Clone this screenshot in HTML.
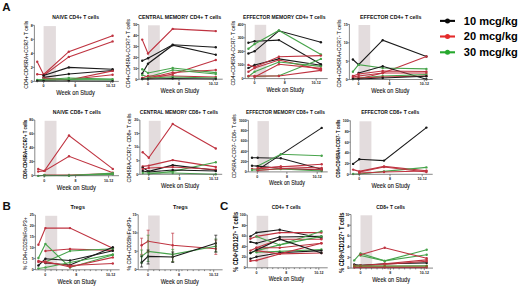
<!DOCTYPE html><html><head><meta charset="utf-8"><style>html,body{margin:0;padding:0;background:#fff;width:520px;height:287px;overflow:hidden}svg{display:block;font-family:"Liberation Sans",sans-serif}</style></head><body>
<svg width="520" height="287" viewBox="0 0 520 287">
<rect width="520" height="287" fill="#fff"/>
<rect x="43.6" y="26.1" width="12.3" height="55.3" fill="#e3dcdd"/>
<text x="75.6" y="18.7" font-size="5.3" font-weight="bold" text-anchor="middle" fill="#111" textLength="46.8" lengthAdjust="spacingAndGlyphs" >NAIVE CD4+ T cells</text>
<text transform="translate(26.2,54.7) rotate(-90)" x="0" y="0" font-size="5.6" font-weight="normal" text-anchor="middle" dominant-baseline="central" fill="#111" stroke="#111" stroke-width="0.05" textLength="68" lengthAdjust="spacingAndGlyphs">CD4+CD45RA+CCR7+ T cells</text>
<polyline points="37.2,61.8 43.6,74.5 68.8,51.7 112.6,35.7" fill="none" stroke="#bf3340" stroke-width="1.1"/>
<circle cx="37.2" cy="61.8" r="1.2" fill="#bf3340"/>
<circle cx="43.6" cy="74.5" r="1.2" fill="#bf3340"/>
<circle cx="68.8" cy="51.7" r="1.2" fill="#bf3340"/>
<circle cx="112.6" cy="35.7" r="1.2" fill="#bf3340"/>
<polyline points="43.6,75.5 68.8,56.9 112.6,41.4" fill="none" stroke="#bf3340" stroke-width="1.1"/>
<circle cx="43.6" cy="75.5" r="1.2" fill="#bf3340"/>
<circle cx="68.8" cy="56.9" r="1.2" fill="#bf3340"/>
<circle cx="112.6" cy="41.4" r="1.2" fill="#bf3340"/>
<polyline points="37.2,74.2 43.6,74.8" fill="none" stroke="#bf3340" stroke-width="1.1"/>
<circle cx="37.2" cy="74.2" r="1.2" fill="#bf3340"/>
<circle cx="43.6" cy="74.8" r="1.2" fill="#bf3340"/>
<polyline points="43.6,75.5 68.8,67.4 112.6,69.3" fill="none" stroke="#1a1a1a" stroke-width="1.1"/>
<circle cx="43.6" cy="75.5" r="1.2" fill="#1a1a1a"/>
<circle cx="68.8" cy="67.4" r="1.2" fill="#1a1a1a"/>
<circle cx="112.6" cy="69.3" r="1.2" fill="#1a1a1a"/>
<polyline points="43.6,77.4 68.8,74 112.6,70.5" fill="none" stroke="#1a1a1a" stroke-width="1.1"/>
<circle cx="43.6" cy="77.4" r="1.2" fill="#1a1a1a"/>
<circle cx="68.8" cy="74" r="1.2" fill="#1a1a1a"/>
<circle cx="112.6" cy="70.5" r="1.2" fill="#1a1a1a"/>
<polyline points="43.6,78 68.8,80 112.6,70.9" fill="none" stroke="#bf3340" stroke-width="1.1"/>
<circle cx="43.6" cy="78" r="1.2" fill="#bf3340"/>
<circle cx="68.8" cy="80" r="1.2" fill="#bf3340"/>
<circle cx="112.6" cy="70.9" r="1.2" fill="#bf3340"/>
<polyline points="43.6,79 68.8,79.5 112.6,74.7" fill="none" stroke="#bf3340" stroke-width="1.1"/>
<circle cx="43.6" cy="79" r="1.2" fill="#bf3340"/>
<circle cx="68.8" cy="79.5" r="1.2" fill="#bf3340"/>
<circle cx="112.6" cy="74.7" r="1.2" fill="#bf3340"/>
<polyline points="37.2,79.9 43.6,79.5 68.8,78 112.6,79.1" fill="none" stroke="#48a44c" stroke-width="1.1"/>
<circle cx="37.2" cy="79.9" r="1.2" fill="#48a44c"/>
<circle cx="43.6" cy="79.5" r="1.2" fill="#48a44c"/>
<circle cx="68.8" cy="78" r="1.2" fill="#48a44c"/>
<circle cx="112.6" cy="79.1" r="1.2" fill="#48a44c"/>
<polyline points="37.2,80.3 43.6,80.3 68.8,79.5 112.6,79.9" fill="none" stroke="#48a44c" stroke-width="1.1"/>
<circle cx="37.2" cy="80.3" r="1.2" fill="#48a44c"/>
<circle cx="43.6" cy="80.3" r="1.2" fill="#48a44c"/>
<circle cx="68.8" cy="79.5" r="1.2" fill="#48a44c"/>
<circle cx="112.6" cy="79.9" r="1.2" fill="#48a44c"/>
<polyline points="37.2,81 43.6,81 68.8,81 112.6,81.2" fill="none" stroke="#1a1a1a" stroke-width="1.1"/>
<circle cx="37.2" cy="81" r="1.2" fill="#1a1a1a"/>
<circle cx="43.6" cy="81" r="1.2" fill="#1a1a1a"/>
<circle cx="68.8" cy="81" r="1.2" fill="#1a1a1a"/>
<circle cx="112.6" cy="81.2" r="1.2" fill="#1a1a1a"/>
<path d="M34.4,25.3V81.4H118.8" stroke="#555555" stroke-width="0.7" fill="none"/>
<text x="32.7" y="26.6" font-size="3.5" font-weight="bold" text-anchor="end" fill="#222" >8</text>
<text x="32.7" y="40.62" font-size="3.5" font-weight="bold" text-anchor="end" fill="#222" >6</text>
<text x="32.7" y="54.65" font-size="3.5" font-weight="bold" text-anchor="end" fill="#222" >4</text>
<text x="32.7" y="68.67" font-size="3.5" font-weight="bold" text-anchor="end" fill="#222" >2</text>
<text x="32.7" y="82.7" font-size="3.5" font-weight="bold" text-anchor="end" fill="#222" >0</text>
<text x="43.6" y="87.25" font-size="3.6" font-weight="bold" text-anchor="middle" fill="#222" >0</text>
<text x="75.2" y="87.25" font-size="3.6" font-weight="bold" text-anchor="middle" fill="#222" >8</text>
<text x="110.7" y="87.25" font-size="3.6" font-weight="bold" text-anchor="middle" fill="#222" >10-12</text>
<path d="M32.4,25.3H34.4M32.4,39.33H34.4M32.4,53.35H34.4M32.4,67.38H34.4M32.4,81.4H34.4M43.6,81.4V83.4M75.2,81.4V83.4M110.7,81.4V83.4" stroke="#555555" stroke-width="0.7" fill="none"/>
<text x="75.5" y="95.1" font-size="6.4" font-weight="normal" text-anchor="middle" fill="#111" textLength="38.5" lengthAdjust="spacingAndGlyphs" stroke="#111" stroke-width="0.1">Week on Study</text>
<rect x="148" y="25.3" width="11.8" height="53.9" fill="#e3dcdd"/>
<text x="179.7" y="18.5" font-size="5.3" font-weight="bold" text-anchor="middle" fill="#111" textLength="83" lengthAdjust="spacingAndGlyphs" >CENTRAL MEMORY CD4+ T cells</text>
<text transform="translate(128.3,53.55) rotate(-90)" x="0" y="0" font-size="5.6" font-weight="normal" text-anchor="middle" dominant-baseline="central" fill="#111" stroke="#111" stroke-width="0.05" textLength="69" lengthAdjust="spacingAndGlyphs">CD4+CD45RA-CCR7+ T cells</text>
<polyline points="142.2,39.6 148,53.5 172.7,28.9 215.8,31.1" fill="none" stroke="#bf3340" stroke-width="1.1"/>
<circle cx="142.2" cy="39.6" r="1.2" fill="#bf3340"/>
<circle cx="148" cy="53.5" r="1.2" fill="#bf3340"/>
<circle cx="172.7" cy="28.9" r="1.2" fill="#bf3340"/>
<circle cx="215.8" cy="31.1" r="1.2" fill="#bf3340"/>
<polyline points="142.2,60.7 148,58.2 172.7,44.7 215.8,47.2" fill="none" stroke="#1a1a1a" stroke-width="1.1"/>
<circle cx="142.2" cy="60.7" r="1.2" fill="#1a1a1a"/>
<circle cx="148" cy="58.2" r="1.2" fill="#1a1a1a"/>
<circle cx="172.7" cy="44.7" r="1.2" fill="#1a1a1a"/>
<circle cx="215.8" cy="47.2" r="1.2" fill="#1a1a1a"/>
<polyline points="142.2,73.6 148,63.7 172.7,45.2 215.8,54.7" fill="none" stroke="#1a1a1a" stroke-width="1.1"/>
<circle cx="142.2" cy="73.6" r="1.2" fill="#1a1a1a"/>
<circle cx="148" cy="63.7" r="1.2" fill="#1a1a1a"/>
<circle cx="172.7" cy="45.2" r="1.2" fill="#1a1a1a"/>
<circle cx="215.8" cy="54.7" r="1.2" fill="#1a1a1a"/>
<polyline points="148,79 172.7,74 215.8,60" fill="none" stroke="#bf3340" stroke-width="1.1"/>
<circle cx="148" cy="79" r="1.2" fill="#bf3340"/>
<circle cx="172.7" cy="74" r="1.2" fill="#bf3340"/>
<circle cx="215.8" cy="60" r="1.2" fill="#bf3340"/>
<polyline points="142.2,69.2 148,73 172.7,68 215.8,72.6" fill="none" stroke="#48a44c" stroke-width="1.1"/>
<circle cx="142.2" cy="69.2" r="1.2" fill="#48a44c"/>
<circle cx="148" cy="73" r="1.2" fill="#48a44c"/>
<circle cx="172.7" cy="68" r="1.2" fill="#48a44c"/>
<circle cx="215.8" cy="72.6" r="1.2" fill="#48a44c"/>
<polyline points="148,78 172.7,72.5 215.8,70" fill="none" stroke="#bf3340" stroke-width="1.1"/>
<circle cx="148" cy="78" r="1.2" fill="#bf3340"/>
<circle cx="172.7" cy="72.5" r="1.2" fill="#bf3340"/>
<circle cx="215.8" cy="70" r="1.2" fill="#bf3340"/>
<polyline points="142.2,75 148,77 172.7,70 215.8,74" fill="none" stroke="#48a44c" stroke-width="1.1"/>
<circle cx="142.2" cy="75" r="1.2" fill="#48a44c"/>
<circle cx="148" cy="77" r="1.2" fill="#48a44c"/>
<circle cx="172.7" cy="70" r="1.2" fill="#48a44c"/>
<circle cx="215.8" cy="74" r="1.2" fill="#48a44c"/>
<polyline points="142.2,78 148,76 172.7,76 215.8,77" fill="none" stroke="#bf3340" stroke-width="1.1"/>
<circle cx="142.2" cy="78" r="1.2" fill="#bf3340"/>
<circle cx="148" cy="76" r="1.2" fill="#bf3340"/>
<circle cx="172.7" cy="76" r="1.2" fill="#bf3340"/>
<circle cx="215.8" cy="77" r="1.2" fill="#bf3340"/>
<polyline points="142.2,79 148,78 172.7,77 215.8,78" fill="none" stroke="#48a44c" stroke-width="1.1"/>
<circle cx="142.2" cy="79" r="1.2" fill="#48a44c"/>
<circle cx="148" cy="78" r="1.2" fill="#48a44c"/>
<circle cx="172.7" cy="77" r="1.2" fill="#48a44c"/>
<circle cx="215.8" cy="78" r="1.2" fill="#48a44c"/>
<polyline points="142.2,79 148,79 172.7,78.5 215.8,79" fill="none" stroke="#1a1a1a" stroke-width="1.1"/>
<circle cx="142.2" cy="79" r="1.2" fill="#1a1a1a"/>
<circle cx="148" cy="79" r="1.2" fill="#1a1a1a"/>
<circle cx="172.7" cy="78.5" r="1.2" fill="#1a1a1a"/>
<circle cx="215.8" cy="79" r="1.2" fill="#1a1a1a"/>
<path d="M138.9,24.5V79.2H222.7" stroke="#555555" stroke-width="0.7" fill="none"/>
<text x="137.2" y="25.8" font-size="3.5" font-weight="bold" text-anchor="end" fill="#222" >50</text>
<text x="137.2" y="36.82" font-size="3.5" font-weight="bold" text-anchor="end" fill="#222" >40</text>
<text x="137.2" y="47.84" font-size="3.5" font-weight="bold" text-anchor="end" fill="#222" >30</text>
<text x="137.2" y="58.86" font-size="3.5" font-weight="bold" text-anchor="end" fill="#222" >20</text>
<text x="137.2" y="69.88" font-size="3.5" font-weight="bold" text-anchor="end" fill="#222" >10</text>
<text x="137.2" y="80.9" font-size="3.5" font-weight="bold" text-anchor="end" fill="#222" >0</text>
<text x="148" y="85.05" font-size="3.6" font-weight="bold" text-anchor="middle" fill="#222" >0</text>
<text x="179" y="85.05" font-size="3.6" font-weight="bold" text-anchor="middle" fill="#222" >8</text>
<text x="213.3" y="85.05" font-size="3.6" font-weight="bold" text-anchor="middle" fill="#222" >10-12</text>
<path d="M136.9,24.5H138.9M136.9,35.52H138.9M136.9,46.54H138.9M136.9,57.56H138.9M136.9,68.58H138.9M136.9,79.6H138.9M148,79.2V81.2M179,79.2V81.2M213.3,79.2V81.2" stroke="#555555" stroke-width="0.7" fill="none"/>
<text x="179.8" y="93.4" font-size="6.4" font-weight="normal" text-anchor="middle" fill="#111" textLength="38.4" lengthAdjust="spacingAndGlyphs" stroke="#111" stroke-width="0.1">Week on Study</text>
<rect x="254.7" y="24.8" width="11.5" height="53.8" fill="#e3dcdd"/>
<text x="284.3" y="18.5" font-size="5.3" font-weight="bold" text-anchor="middle" fill="#111" textLength="82.5" lengthAdjust="spacingAndGlyphs" >EFFECTOR MEMORY CD4+ T cells</text>
<text transform="translate(233.3,53.15) rotate(-90)" x="0" y="0" font-size="5.6" font-weight="normal" text-anchor="middle" dominant-baseline="central" fill="#111" stroke="#111" stroke-width="0.05" textLength="64.7" lengthAdjust="spacingAndGlyphs">CD4+CD45RA-CCR7- T cells</text>
<polyline points="248.4,42.7 254.6,41.2 278.9,40.1 320.9,64.2" fill="none" stroke="#1a1a1a" stroke-width="1.1"/>
<circle cx="248.4" cy="42.7" r="1.2" fill="#1a1a1a"/>
<circle cx="254.6" cy="41.2" r="1.2" fill="#1a1a1a"/>
<circle cx="278.9" cy="40.1" r="1.2" fill="#1a1a1a"/>
<circle cx="320.9" cy="64.2" r="1.2" fill="#1a1a1a"/>
<polyline points="248.4,53.5 254.6,51.3 278.9,30.8 320.9,42.2" fill="none" stroke="#1a1a1a" stroke-width="1.1"/>
<circle cx="248.4" cy="53.5" r="1.2" fill="#1a1a1a"/>
<circle cx="254.6" cy="51.3" r="1.2" fill="#1a1a1a"/>
<circle cx="278.9" cy="30.8" r="1.2" fill="#1a1a1a"/>
<circle cx="320.9" cy="42.2" r="1.2" fill="#1a1a1a"/>
<polyline points="248.4,48.7 254.6,44 278.9,30.4 320.9,54.5" fill="none" stroke="#48a44c" stroke-width="1.1"/>
<circle cx="248.4" cy="48.7" r="1.2" fill="#48a44c"/>
<circle cx="254.6" cy="44" r="1.2" fill="#48a44c"/>
<circle cx="278.9" cy="30.4" r="1.2" fill="#48a44c"/>
<circle cx="320.9" cy="54.5" r="1.2" fill="#48a44c"/>
<polyline points="248.4,67.9 254.6,64.9 278.9,58.9 320.9,65.3" fill="none" stroke="#1a1a1a" stroke-width="1.1"/>
<circle cx="248.4" cy="67.9" r="1.2" fill="#1a1a1a"/>
<circle cx="254.6" cy="64.9" r="1.2" fill="#1a1a1a"/>
<circle cx="278.9" cy="58.9" r="1.2" fill="#1a1a1a"/>
<circle cx="320.9" cy="65.3" r="1.2" fill="#1a1a1a"/>
<polyline points="248.4,64.9 254.6,67 278.9,56.7 320.9,55.6" fill="none" stroke="#bf3340" stroke-width="1.1"/>
<circle cx="248.4" cy="64.9" r="1.2" fill="#bf3340"/>
<circle cx="254.6" cy="67" r="1.2" fill="#bf3340"/>
<circle cx="278.9" cy="56.7" r="1.2" fill="#bf3340"/>
<circle cx="320.9" cy="55.6" r="1.2" fill="#bf3340"/>
<polyline points="248.4,71.8 254.6,68 278.9,60 320.9,69.6" fill="none" stroke="#bf3340" stroke-width="1.1"/>
<circle cx="248.4" cy="71.8" r="1.2" fill="#bf3340"/>
<circle cx="254.6" cy="68" r="1.2" fill="#bf3340"/>
<circle cx="278.9" cy="60" r="1.2" fill="#bf3340"/>
<circle cx="320.9" cy="69.6" r="1.2" fill="#bf3340"/>
<polyline points="248.4,76.5 254.6,71.8 278.9,62 320.9,66.4" fill="none" stroke="#48a44c" stroke-width="1.1"/>
<circle cx="248.4" cy="76.5" r="1.2" fill="#48a44c"/>
<circle cx="254.6" cy="71.8" r="1.2" fill="#48a44c"/>
<circle cx="278.9" cy="62" r="1.2" fill="#48a44c"/>
<circle cx="320.9" cy="66.4" r="1.2" fill="#48a44c"/>
<polyline points="254.6,76.5 278.9,75.7 320.9,58.9" fill="none" stroke="#48a44c" stroke-width="1.1"/>
<circle cx="254.6" cy="76.5" r="1.2" fill="#48a44c"/>
<circle cx="278.9" cy="75.7" r="1.2" fill="#48a44c"/>
<circle cx="320.9" cy="58.9" r="1.2" fill="#48a44c"/>
<polyline points="254.6,77 278.9,64.2 320.9,68.4" fill="none" stroke="#bf3340" stroke-width="1.1"/>
<circle cx="254.6" cy="77" r="1.2" fill="#bf3340"/>
<circle cx="278.9" cy="64.2" r="1.2" fill="#bf3340"/>
<circle cx="320.9" cy="68.4" r="1.2" fill="#bf3340"/>
<polyline points="248.4,76 254.6,76 278.9,76 320.9,70.4" fill="none" stroke="#bf3340" stroke-width="1.1"/>
<circle cx="248.4" cy="76" r="1.2" fill="#bf3340"/>
<circle cx="254.6" cy="76" r="1.2" fill="#bf3340"/>
<circle cx="278.9" cy="76" r="1.2" fill="#bf3340"/>
<circle cx="320.9" cy="70.4" r="1.2" fill="#bf3340"/>
<path d="M245.2,24V78.6H327.7" stroke="#555555" stroke-width="0.7" fill="none"/>
<text x="243.5" y="25.6" font-size="3.5" font-weight="bold" text-anchor="end" fill="#222" >400</text>
<text x="243.5" y="39.15" font-size="3.5" font-weight="bold" text-anchor="end" fill="#222" >300</text>
<text x="243.5" y="52.7" font-size="3.5" font-weight="bold" text-anchor="end" fill="#222" >200</text>
<text x="243.5" y="66.25" font-size="3.5" font-weight="bold" text-anchor="end" fill="#222" >100</text>
<text x="243.5" y="79.8" font-size="3.5" font-weight="bold" text-anchor="end" fill="#222" >0</text>
<text x="254.6" y="84.45" font-size="3.6" font-weight="bold" text-anchor="middle" fill="#222" >0</text>
<text x="284.7" y="84.45" font-size="3.6" font-weight="bold" text-anchor="middle" fill="#222" >8</text>
<text x="316.2" y="84.45" font-size="3.6" font-weight="bold" text-anchor="middle" fill="#222" >10-12</text>
<path d="M243.2,24.3H245.2M243.2,37.85H245.2M243.2,51.4H245.2M243.2,64.95H245.2M243.2,78.5H245.2M254.6,78.6V80.6M284.7,78.6V80.6M316.2,78.6V80.6" stroke="#555555" stroke-width="0.7" fill="none"/>
<text x="285.2" y="91.8" font-size="6.4" font-weight="normal" text-anchor="middle" fill="#111" textLength="37.5" lengthAdjust="spacingAndGlyphs" stroke="#111" stroke-width="0.1">Week on Study</text>
<rect x="358.5" y="25" width="11.7" height="54.5" fill="#e3dcdd"/>
<text x="390.7" y="18.5" font-size="5.3" font-weight="bold" text-anchor="middle" fill="#111" textLength="61.3" lengthAdjust="spacingAndGlyphs" >EFFECTOR CD4+ T cells</text>
<text transform="translate(338.7,53.55) rotate(-90)" x="0" y="0" font-size="5.6" font-weight="normal" text-anchor="middle" dominant-baseline="central" fill="#111" stroke="#111" stroke-width="0.05" textLength="68" lengthAdjust="spacingAndGlyphs">CD4+CD45RA+CCR7- T cells</text>
<polyline points="352.9,59.5 358.6,64.7 382.7,40.2 426.4,56.5" fill="none" stroke="#1a1a1a" stroke-width="1.1"/>
<circle cx="352.9" cy="59.5" r="1.2" fill="#1a1a1a"/>
<circle cx="358.6" cy="64.7" r="1.2" fill="#1a1a1a"/>
<circle cx="382.7" cy="40.2" r="1.2" fill="#1a1a1a"/>
<circle cx="426.4" cy="56.5" r="1.2" fill="#1a1a1a"/>
<polyline points="358.6,79 382.7,73 426.4,56.5" fill="none" stroke="#bf3340" stroke-width="1.1"/>
<circle cx="358.6" cy="79" r="1.2" fill="#bf3340"/>
<circle cx="382.7" cy="73" r="1.2" fill="#bf3340"/>
<circle cx="426.4" cy="56.5" r="1.2" fill="#bf3340"/>
<polyline points="352.9,71.7 358.6,64.7 382.7,68 426.4,68.9" fill="none" stroke="#48a44c" stroke-width="1.1"/>
<circle cx="352.9" cy="71.7" r="1.2" fill="#48a44c"/>
<circle cx="358.6" cy="64.7" r="1.2" fill="#48a44c"/>
<circle cx="382.7" cy="68" r="1.2" fill="#48a44c"/>
<circle cx="426.4" cy="68.9" r="1.2" fill="#48a44c"/>
<polyline points="358.6,73 382.7,66.3 426.4,79.3" fill="none" stroke="#1a1a1a" stroke-width="1.1"/>
<circle cx="358.6" cy="73" r="1.2" fill="#1a1a1a"/>
<circle cx="382.7" cy="66.3" r="1.2" fill="#1a1a1a"/>
<circle cx="426.4" cy="79.3" r="1.2" fill="#1a1a1a"/>
<polyline points="352.9,76 358.6,74 382.7,71 426.4,71.5" fill="none" stroke="#bf3340" stroke-width="1.1"/>
<circle cx="352.9" cy="76" r="1.2" fill="#bf3340"/>
<circle cx="358.6" cy="74" r="1.2" fill="#bf3340"/>
<circle cx="382.7" cy="71" r="1.2" fill="#bf3340"/>
<circle cx="426.4" cy="71.5" r="1.2" fill="#bf3340"/>
<polyline points="352.9,77 358.6,76 382.7,73 426.4,73" fill="none" stroke="#bf3340" stroke-width="1.1"/>
<circle cx="352.9" cy="77" r="1.2" fill="#bf3340"/>
<circle cx="358.6" cy="76" r="1.2" fill="#bf3340"/>
<circle cx="382.7" cy="73" r="1.2" fill="#bf3340"/>
<circle cx="426.4" cy="73" r="1.2" fill="#bf3340"/>
<polyline points="352.9,79 358.6,78 382.7,76 426.4,74.6" fill="none" stroke="#48a44c" stroke-width="1.1"/>
<circle cx="352.9" cy="79" r="1.2" fill="#48a44c"/>
<circle cx="358.6" cy="78" r="1.2" fill="#48a44c"/>
<circle cx="382.7" cy="76" r="1.2" fill="#48a44c"/>
<circle cx="426.4" cy="74.6" r="1.2" fill="#48a44c"/>
<polyline points="352.9,78 358.6,78 382.7,77 426.4,76" fill="none" stroke="#bf3340" stroke-width="1.1"/>
<circle cx="352.9" cy="78" r="1.2" fill="#bf3340"/>
<circle cx="358.6" cy="78" r="1.2" fill="#bf3340"/>
<circle cx="382.7" cy="77" r="1.2" fill="#bf3340"/>
<circle cx="426.4" cy="76" r="1.2" fill="#bf3340"/>
<polyline points="352.9,79 358.6,79 382.7,78 426.4,76.2" fill="none" stroke="#1a1a1a" stroke-width="1.1"/>
<circle cx="352.9" cy="79" r="1.2" fill="#1a1a1a"/>
<circle cx="358.6" cy="79" r="1.2" fill="#1a1a1a"/>
<circle cx="382.7" cy="78" r="1.2" fill="#1a1a1a"/>
<circle cx="426.4" cy="76.2" r="1.2" fill="#1a1a1a"/>
<path d="M349.4,24.2V79.5H432.7" stroke="#555555" stroke-width="0.7" fill="none"/>
<text x="347.7" y="25.7" font-size="3.5" font-weight="bold" text-anchor="end" fill="#222" >15</text>
<text x="347.7" y="44.1" font-size="3.5" font-weight="bold" text-anchor="end" fill="#222" >10</text>
<text x="347.7" y="62.5" font-size="3.5" font-weight="bold" text-anchor="end" fill="#222" >5</text>
<text x="347.7" y="80.9" font-size="3.5" font-weight="bold" text-anchor="end" fill="#222" >0</text>
<text x="358.6" y="85.35" font-size="3.6" font-weight="bold" text-anchor="middle" fill="#222" >0</text>
<text x="389.6" y="85.35" font-size="3.6" font-weight="bold" text-anchor="middle" fill="#222" >8</text>
<text x="424.3" y="85.35" font-size="3.6" font-weight="bold" text-anchor="middle" fill="#222" >10-12</text>
<path d="M347.4,24.4H349.4M347.4,42.8H349.4M347.4,61.2H349.4M347.4,79.6H349.4M358.6,79.5V81.5M389.6,79.5V81.5M424.3,79.5V81.5" stroke="#555555" stroke-width="0.7" fill="none"/>
<text x="390.3" y="93.4" font-size="6.4" font-weight="normal" text-anchor="middle" fill="#111" textLength="38.1" lengthAdjust="spacingAndGlyphs" stroke="#111" stroke-width="0.1">Week on Study</text>
<rect x="44.6" y="120.8" width="11.9" height="54.9" fill="#e3dcdd"/>
<text x="76.8" y="114.2" font-size="5.3" font-weight="bold" text-anchor="middle" fill="#111" textLength="48" lengthAdjust="spacingAndGlyphs" >NAIVE CD8+ T cells</text>
<text transform="translate(25,149.5) rotate(-90)" x="0" y="0" font-size="5.0" font-weight="bold" text-anchor="middle" dominant-baseline="central" fill="#111" stroke="#111" stroke-width="0.05" textLength="59" lengthAdjust="spacingAndGlyphs">CD8+CD45RA+CCR7+ T cells</text>
<polyline points="38.2,168.9 44.4,170.9 69,135.5 112.8,168.9" fill="none" stroke="#bf3340" stroke-width="1.1"/>
<circle cx="38.2" cy="168.9" r="1.2" fill="#bf3340"/>
<circle cx="44.4" cy="170.9" r="1.2" fill="#bf3340"/>
<circle cx="69" cy="135.5" r="1.2" fill="#bf3340"/>
<circle cx="112.8" cy="168.9" r="1.2" fill="#bf3340"/>
<polyline points="38.2,171.5 44.4,170.9 69,156.3 112.8,172.7" fill="none" stroke="#bf3340" stroke-width="1.1"/>
<circle cx="38.2" cy="171.5" r="1.2" fill="#bf3340"/>
<circle cx="44.4" cy="170.9" r="1.2" fill="#bf3340"/>
<circle cx="69" cy="156.3" r="1.2" fill="#bf3340"/>
<circle cx="112.8" cy="172.7" r="1.2" fill="#bf3340"/>
<polyline points="44.4,175 69,175 112.8,173.5" fill="none" stroke="#bf3340" stroke-width="1.1"/>
<circle cx="44.4" cy="175" r="1.2" fill="#bf3340"/>
<circle cx="69" cy="175" r="1.2" fill="#bf3340"/>
<circle cx="112.8" cy="173.5" r="1.2" fill="#bf3340"/>
<polyline points="38.2,175.9 44.4,175.2 69,175.8 112.8,173.1" fill="none" stroke="#48a44c" stroke-width="1.1"/>
<circle cx="38.2" cy="175.9" r="1.2" fill="#48a44c"/>
<circle cx="44.4" cy="175.2" r="1.2" fill="#48a44c"/>
<circle cx="69" cy="175.8" r="1.2" fill="#48a44c"/>
<circle cx="112.8" cy="173.1" r="1.2" fill="#48a44c"/>
<polyline points="44.4,175.6 69,175.4 112.8,174.4" fill="none" stroke="#48a44c" stroke-width="1.1"/>
<circle cx="44.4" cy="175.6" r="1.2" fill="#48a44c"/>
<circle cx="69" cy="175.4" r="1.2" fill="#48a44c"/>
<circle cx="112.8" cy="174.4" r="1.2" fill="#48a44c"/>
<path d="M34.8,120V175.7H119" stroke="#555555" stroke-width="0.7" fill="none"/>
<text x="33.1" y="121.3" font-size="3.5" font-weight="bold" text-anchor="end" fill="#222" >80</text>
<text x="33.1" y="135.18" font-size="3.5" font-weight="bold" text-anchor="end" fill="#222" >60</text>
<text x="33.1" y="149.05" font-size="3.5" font-weight="bold" text-anchor="end" fill="#222" >40</text>
<text x="33.1" y="162.93" font-size="3.5" font-weight="bold" text-anchor="end" fill="#222" >20</text>
<text x="33.1" y="176.8" font-size="3.5" font-weight="bold" text-anchor="end" fill="#222" >0</text>
<text x="44.2" y="181.55" font-size="3.6" font-weight="bold" text-anchor="middle" fill="#222" >0</text>
<text x="75.6" y="181.55" font-size="3.6" font-weight="bold" text-anchor="middle" fill="#222" >8</text>
<text x="108.6" y="181.55" font-size="3.6" font-weight="bold" text-anchor="middle" fill="#222" >10-12</text>
<path d="M32.8,120H34.8M32.8,133.88H34.8M32.8,147.75H34.8M32.8,161.62H34.8M32.8,175.5H34.8M44.2,175.7V177.7M75.6,175.7V177.7M108.6,175.7V177.7" stroke="#555555" stroke-width="0.7" fill="none"/>
<text x="76.4" y="189.7" font-size="6.4" font-weight="normal" text-anchor="middle" fill="#111" textLength="39.1" lengthAdjust="spacingAndGlyphs" stroke="#111" stroke-width="0.1">Week on Study</text>
<rect x="148.8" y="120.8" width="11.8" height="53.5" fill="#e3dcdd"/>
<text x="179" y="114.2" font-size="5.3" font-weight="bold" text-anchor="middle" fill="#111" textLength="78.3" lengthAdjust="spacingAndGlyphs" >CENTRAL MEMORY CD8+ T cells</text>
<text transform="translate(128.9,148) rotate(-90)" x="0" y="0" font-size="5.6" font-weight="normal" text-anchor="middle" dominant-baseline="central" fill="#111" stroke="#111" stroke-width="0.05" textLength="69" lengthAdjust="spacingAndGlyphs">CD45RA-CCR7+ CD8+ T cells</text>
<polyline points="142.7,152.2 148.8,157.7 172.7,123.9 215.8,148.5" fill="none" stroke="#bf3340" stroke-width="1.1"/>
<circle cx="142.7" cy="152.2" r="1.2" fill="#bf3340"/>
<circle cx="148.8" cy="157.7" r="1.2" fill="#bf3340"/>
<circle cx="172.7" cy="123.9" r="1.2" fill="#bf3340"/>
<circle cx="215.8" cy="148.5" r="1.2" fill="#bf3340"/>
<polyline points="142.7,166.4 148.8,165.6 172.7,160.1 215.8,166.9" fill="none" stroke="#bf3340" stroke-width="1.1"/>
<circle cx="142.7" cy="166.4" r="1.2" fill="#bf3340"/>
<circle cx="148.8" cy="165.6" r="1.2" fill="#bf3340"/>
<circle cx="172.7" cy="160.1" r="1.2" fill="#bf3340"/>
<circle cx="215.8" cy="166.9" r="1.2" fill="#bf3340"/>
<polyline points="148.8,174 172.7,171.4 215.8,162.2" fill="none" stroke="#48a44c" stroke-width="1.1"/>
<circle cx="148.8" cy="174" r="1.2" fill="#48a44c"/>
<circle cx="172.7" cy="171.4" r="1.2" fill="#48a44c"/>
<circle cx="215.8" cy="162.2" r="1.2" fill="#48a44c"/>
<polyline points="142.7,167.6 148.8,171.4 172.7,165.1 215.8,170.2" fill="none" stroke="#1a1a1a" stroke-width="1.1"/>
<circle cx="142.7" cy="167.6" r="1.2" fill="#1a1a1a"/>
<circle cx="148.8" cy="171.4" r="1.2" fill="#1a1a1a"/>
<circle cx="172.7" cy="165.1" r="1.2" fill="#1a1a1a"/>
<circle cx="215.8" cy="170.2" r="1.2" fill="#1a1a1a"/>
<polyline points="142.7,169 148.8,168 172.7,167 215.8,169.5" fill="none" stroke="#bf3340" stroke-width="1.1"/>
<circle cx="142.7" cy="169" r="1.2" fill="#bf3340"/>
<circle cx="148.8" cy="168" r="1.2" fill="#bf3340"/>
<circle cx="172.7" cy="167" r="1.2" fill="#bf3340"/>
<circle cx="215.8" cy="169.5" r="1.2" fill="#bf3340"/>
<polyline points="142.7,171 148.8,172 172.7,170 215.8,171" fill="none" stroke="#1a1a1a" stroke-width="1.1"/>
<circle cx="142.7" cy="171" r="1.2" fill="#1a1a1a"/>
<circle cx="148.8" cy="172" r="1.2" fill="#1a1a1a"/>
<circle cx="172.7" cy="170" r="1.2" fill="#1a1a1a"/>
<circle cx="215.8" cy="171" r="1.2" fill="#1a1a1a"/>
<polyline points="142.7,173 148.8,173 172.7,173 215.8,174.2" fill="none" stroke="#48a44c" stroke-width="1.1"/>
<circle cx="142.7" cy="173" r="1.2" fill="#48a44c"/>
<circle cx="148.8" cy="173" r="1.2" fill="#48a44c"/>
<circle cx="172.7" cy="173" r="1.2" fill="#48a44c"/>
<circle cx="215.8" cy="174.2" r="1.2" fill="#48a44c"/>
<path d="M139.9,120V174.3H222.2" stroke="#555555" stroke-width="0.7" fill="none"/>
<text x="138.2" y="121.3" font-size="3.5" font-weight="bold" text-anchor="end" fill="#222" >20</text>
<text x="138.2" y="134.88" font-size="3.5" font-weight="bold" text-anchor="end" fill="#222" >15</text>
<text x="138.2" y="148.45" font-size="3.5" font-weight="bold" text-anchor="end" fill="#222" >10</text>
<text x="138.2" y="162.03" font-size="3.5" font-weight="bold" text-anchor="end" fill="#222" >5</text>
<text x="138.2" y="175.6" font-size="3.5" font-weight="bold" text-anchor="end" fill="#222" >0</text>
<text x="148.8" y="180.15" font-size="3.6" font-weight="bold" text-anchor="middle" fill="#222" >0</text>
<text x="179.4" y="180.15" font-size="3.6" font-weight="bold" text-anchor="middle" fill="#222" >8</text>
<text x="213.7" y="180.15" font-size="3.6" font-weight="bold" text-anchor="middle" fill="#222" >10-12</text>
<path d="M137.9,120H139.9M137.9,133.57H139.9M137.9,147.15H139.9M137.9,160.73H139.9M137.9,174.3H139.9M148.8,174.3V176.3M179.4,174.3V176.3M213.7,174.3V176.3" stroke="#555555" stroke-width="0.7" fill="none"/>
<text x="180" y="188" font-size="6.4" font-weight="normal" text-anchor="middle" fill="#111" textLength="38" lengthAdjust="spacingAndGlyphs" stroke="#111" stroke-width="0.1">Week on Study</text>
<rect x="257.5" y="121.1" width="11.4" height="50.8" fill="#e3dcdd"/>
<text x="285.5" y="114.2" font-size="5.3" font-weight="bold" text-anchor="middle" fill="#111" textLength="78.9" lengthAdjust="spacingAndGlyphs" >EFFECTOR MEMORY CD8+ T cells</text>
<text transform="translate(234,146.3) rotate(-90)" x="0" y="0" font-size="5.6" font-weight="normal" text-anchor="middle" dominant-baseline="central" fill="#111" stroke="#111" stroke-width="0.05" textLength="64" lengthAdjust="spacingAndGlyphs">CD45RA-CCR7- CD8+ T cells</text>
<polyline points="252,157.7 257.7,157.7 280.8,158.2 321.7,169.3" fill="none" stroke="#1a1a1a" stroke-width="1.1"/>
<circle cx="252" cy="157.7" r="1.2" fill="#1a1a1a"/>
<circle cx="257.7" cy="157.7" r="1.2" fill="#1a1a1a"/>
<circle cx="280.8" cy="158.2" r="1.2" fill="#1a1a1a"/>
<circle cx="321.7" cy="169.3" r="1.2" fill="#1a1a1a"/>
<polyline points="257.7,169.9 321.7,127.9" fill="none" stroke="#1a1a1a" stroke-width="1.1"/>
<circle cx="257.7" cy="169.9" r="1.2" fill="#1a1a1a"/>
<circle cx="321.7" cy="127.9" r="1.2" fill="#1a1a1a"/>
<polyline points="257.7,166.1 280.8,154.3 321.7,155.8" fill="none" stroke="#48a44c" stroke-width="1.1"/>
<circle cx="257.7" cy="166.1" r="1.2" fill="#48a44c"/>
<circle cx="280.8" cy="154.3" r="1.2" fill="#48a44c"/>
<circle cx="321.7" cy="155.8" r="1.2" fill="#48a44c"/>
<polyline points="252,165.8 257.7,166.1 280.8,168.5 321.7,170" fill="none" stroke="#1a1a1a" stroke-width="1.1"/>
<circle cx="252" cy="165.8" r="1.2" fill="#1a1a1a"/>
<circle cx="257.7" cy="166.1" r="1.2" fill="#1a1a1a"/>
<circle cx="280.8" cy="168.5" r="1.2" fill="#1a1a1a"/>
<circle cx="321.7" cy="170" r="1.2" fill="#1a1a1a"/>
<polyline points="257.7,168 280.8,166.7 321.7,164.3" fill="none" stroke="#bf3340" stroke-width="1.1"/>
<circle cx="257.7" cy="168" r="1.2" fill="#bf3340"/>
<circle cx="280.8" cy="166.7" r="1.2" fill="#bf3340"/>
<circle cx="321.7" cy="164.3" r="1.2" fill="#bf3340"/>
<polyline points="252,169 257.7,169 280.8,166.5 321.7,168" fill="none" stroke="#bf3340" stroke-width="1.1"/>
<circle cx="252" cy="169" r="1.2" fill="#bf3340"/>
<circle cx="257.7" cy="169" r="1.2" fill="#bf3340"/>
<circle cx="280.8" cy="166.5" r="1.2" fill="#bf3340"/>
<circle cx="321.7" cy="168" r="1.2" fill="#bf3340"/>
<polyline points="252,170 257.7,170 280.8,169 321.7,171" fill="none" stroke="#48a44c" stroke-width="1.1"/>
<circle cx="252" cy="170" r="1.2" fill="#48a44c"/>
<circle cx="257.7" cy="170" r="1.2" fill="#48a44c"/>
<circle cx="280.8" cy="169" r="1.2" fill="#48a44c"/>
<circle cx="321.7" cy="171" r="1.2" fill="#48a44c"/>
<polyline points="257.7,170.5 280.8,168.5 321.7,169.5" fill="none" stroke="#bf3340" stroke-width="1.1"/>
<circle cx="257.7" cy="170.5" r="1.2" fill="#bf3340"/>
<circle cx="280.8" cy="168.5" r="1.2" fill="#bf3340"/>
<circle cx="321.7" cy="169.5" r="1.2" fill="#bf3340"/>
<path d="M248.4,120.3V171.9H327.7" stroke="#555555" stroke-width="0.7" fill="none"/>
<text x="246.7" y="121.6" font-size="3.5" font-weight="bold" text-anchor="end" fill="#222" >1000</text>
<text x="246.7" y="131.92" font-size="3.5" font-weight="bold" text-anchor="end" fill="#222" >800</text>
<text x="246.7" y="142.24" font-size="3.5" font-weight="bold" text-anchor="end" fill="#222" >600</text>
<text x="246.7" y="152.56" font-size="3.5" font-weight="bold" text-anchor="end" fill="#222" >400</text>
<text x="246.7" y="162.88" font-size="3.5" font-weight="bold" text-anchor="end" fill="#222" >200</text>
<text x="246.7" y="173.2" font-size="3.5" font-weight="bold" text-anchor="end" fill="#222" >0</text>
<text x="257.3" y="177.75" font-size="3.6" font-weight="bold" text-anchor="middle" fill="#222" >0</text>
<text x="286.9" y="177.75" font-size="3.6" font-weight="bold" text-anchor="middle" fill="#222" >8</text>
<text x="317.2" y="177.75" font-size="3.6" font-weight="bold" text-anchor="middle" fill="#222" >10-12</text>
<path d="M246.4,120.3H248.4M246.4,130.62H248.4M246.4,140.94H248.4M246.4,151.26H248.4M246.4,161.58H248.4M246.4,171.9H248.4M257.3,171.9V173.9M286.9,171.9V173.9M317.2,171.9V173.9" stroke="#555555" stroke-width="0.7" fill="none"/>
<text x="286.9" y="184.6" font-size="6.4" font-weight="normal" text-anchor="middle" fill="#111" textLength="35.8" lengthAdjust="spacingAndGlyphs" stroke="#111" stroke-width="0.1">Week on Study</text>
<rect x="359.5" y="121.3" width="11.9" height="53" fill="#e3dcdd"/>
<text x="390.2" y="114.2" font-size="5.3" font-weight="bold" text-anchor="middle" fill="#111" textLength="58.1" lengthAdjust="spacingAndGlyphs" >EFFECTOR CD8+ T cells</text>
<text transform="translate(338.1,148.7) rotate(-90)" x="0" y="0" font-size="5.0" font-weight="bold" text-anchor="middle" dominant-baseline="central" fill="#111" stroke="#111" stroke-width="0.05" textLength="58" lengthAdjust="spacingAndGlyphs">CD8+CD45RA+CCR7- T cells</text>
<polyline points="353.1,163.9 359.3,159.2 384,160.6 426.4,127.6" fill="none" stroke="#1a1a1a" stroke-width="1.1"/>
<circle cx="353.1" cy="163.9" r="1.2" fill="#1a1a1a"/>
<circle cx="359.3" cy="159.2" r="1.2" fill="#1a1a1a"/>
<circle cx="384" cy="160.6" r="1.2" fill="#1a1a1a"/>
<circle cx="426.4" cy="127.6" r="1.2" fill="#1a1a1a"/>
<polyline points="353.1,169.6 359.3,171.4 384,166.4 426.4,170.7" fill="none" stroke="#bf3340" stroke-width="1.1"/>
<circle cx="353.1" cy="169.6" r="1.2" fill="#bf3340"/>
<circle cx="359.3" cy="171.4" r="1.2" fill="#bf3340"/>
<circle cx="384" cy="166.4" r="1.2" fill="#bf3340"/>
<circle cx="426.4" cy="170.7" r="1.2" fill="#bf3340"/>
<polyline points="353.1,174 359.3,174 384,171.4 426.4,167.4" fill="none" stroke="#48a44c" stroke-width="1.1"/>
<circle cx="353.1" cy="174" r="1.2" fill="#48a44c"/>
<circle cx="359.3" cy="174" r="1.2" fill="#48a44c"/>
<circle cx="384" cy="171.4" r="1.2" fill="#48a44c"/>
<circle cx="426.4" cy="167.4" r="1.2" fill="#48a44c"/>
<polyline points="359.3,172 384,167 426.4,172" fill="none" stroke="#bf3340" stroke-width="1.1"/>
<circle cx="359.3" cy="172" r="1.2" fill="#bf3340"/>
<circle cx="384" cy="167" r="1.2" fill="#bf3340"/>
<circle cx="426.4" cy="172" r="1.2" fill="#bf3340"/>
<polyline points="359.3,173 384,172 426.4,171" fill="none" stroke="#bf3340" stroke-width="1.1"/>
<circle cx="359.3" cy="173" r="1.2" fill="#bf3340"/>
<circle cx="384" cy="172" r="1.2" fill="#bf3340"/>
<circle cx="426.4" cy="171" r="1.2" fill="#bf3340"/>
<path d="M350.3,120.5V174.3H432.7" stroke="#555555" stroke-width="0.7" fill="none"/>
<text x="348.6" y="122.1" font-size="3.5" font-weight="bold" text-anchor="end" fill="#222" >100</text>
<text x="348.6" y="132.8" font-size="3.5" font-weight="bold" text-anchor="end" fill="#222" >80</text>
<text x="348.6" y="143.5" font-size="3.5" font-weight="bold" text-anchor="end" fill="#222" >60</text>
<text x="348.6" y="154.2" font-size="3.5" font-weight="bold" text-anchor="end" fill="#222" >40</text>
<text x="348.6" y="164.9" font-size="3.5" font-weight="bold" text-anchor="end" fill="#222" >20</text>
<text x="348.6" y="175.6" font-size="3.5" font-weight="bold" text-anchor="end" fill="#222" >0</text>
<text x="359.3" y="180.15" font-size="3.6" font-weight="bold" text-anchor="middle" fill="#222" >0</text>
<text x="390" y="180.15" font-size="3.6" font-weight="bold" text-anchor="middle" fill="#222" >8</text>
<text x="422.2" y="180.15" font-size="3.6" font-weight="bold" text-anchor="middle" fill="#222" >10-12</text>
<path d="M348.3,120.8H350.3M348.3,131.5H350.3M348.3,142.2H350.3M348.3,152.9H350.3M348.3,163.6H350.3M348.3,174.3H350.3M359.3,174.3V176.3M390,174.3V176.3M422.2,174.3V176.3" stroke="#555555" stroke-width="0.7" fill="none"/>
<text x="390.7" y="187.9" font-size="6.4" font-weight="normal" text-anchor="middle" fill="#111" textLength="38.5" lengthAdjust="spacingAndGlyphs" stroke="#111" stroke-width="0.1">Week on Study</text>
<rect x="45.2" y="215.8" width="12" height="54" fill="#e3dcdd"/>
<text x="77.7" y="209.1" font-size="5.3" font-weight="bold" text-anchor="middle" fill="#111" textLength="14.5" lengthAdjust="spacingAndGlyphs" >Tregs</text>
<text transform="translate(25.2,243.7) rotate(-90)" x="0" y="0" font-size="5.6" font-weight="normal" text-anchor="middle" dominant-baseline="central" fill="#111" stroke="#111" stroke-width="0.05" textLength="52.5" lengthAdjust="spacingAndGlyphs">% CD4+CD25hiFoxP3+</text>
<polyline points="38.4,244.7 45.4,228.1 70,228.1 112.8,248.3" fill="none" stroke="#bf3340" stroke-width="1.1"/>
<circle cx="38.4" cy="244.7" r="1.2" fill="#bf3340"/>
<circle cx="45.4" cy="228.1" r="1.2" fill="#bf3340"/>
<circle cx="70" cy="228.1" r="1.2" fill="#bf3340"/>
<circle cx="112.8" cy="248.3" r="1.2" fill="#bf3340"/>
<polyline points="45.4,251 70,249 112.8,250.4" fill="none" stroke="#bf3340" stroke-width="1.1"/>
<circle cx="45.4" cy="251" r="1.2" fill="#bf3340"/>
<circle cx="70" cy="249" r="1.2" fill="#bf3340"/>
<circle cx="112.8" cy="250.4" r="1.2" fill="#bf3340"/>
<polyline points="38.4,258 45.4,243.9 70,267.5 112.8,255" fill="none" stroke="#48a44c" stroke-width="1.1"/>
<circle cx="38.4" cy="258" r="1.2" fill="#48a44c"/>
<circle cx="45.4" cy="243.9" r="1.2" fill="#48a44c"/>
<circle cx="70" cy="267.5" r="1.2" fill="#48a44c"/>
<circle cx="112.8" cy="255" r="1.2" fill="#48a44c"/>
<polyline points="45.4,262 70,251 112.8,248.7" fill="none" stroke="#48a44c" stroke-width="1.1"/>
<circle cx="45.4" cy="262" r="1.2" fill="#48a44c"/>
<circle cx="70" cy="251" r="1.2" fill="#48a44c"/>
<circle cx="112.8" cy="248.7" r="1.2" fill="#48a44c"/>
<polyline points="38.4,265.5 45.4,258.8 70,260.5 112.8,250.8" fill="none" stroke="#1a1a1a" stroke-width="1.1"/>
<circle cx="38.4" cy="265.5" r="1.2" fill="#1a1a1a"/>
<circle cx="45.4" cy="258.8" r="1.2" fill="#1a1a1a"/>
<circle cx="70" cy="260.5" r="1.2" fill="#1a1a1a"/>
<circle cx="112.8" cy="250.8" r="1.2" fill="#1a1a1a"/>
<polyline points="45.4,263 70,265 112.8,247.3" fill="none" stroke="#1a1a1a" stroke-width="1.1"/>
<circle cx="45.4" cy="263" r="1.2" fill="#1a1a1a"/>
<circle cx="70" cy="265" r="1.2" fill="#1a1a1a"/>
<circle cx="112.8" cy="247.3" r="1.2" fill="#1a1a1a"/>
<polyline points="38.4,260.9 45.4,262.5 70,265.5 112.8,263.5" fill="none" stroke="#bf3340" stroke-width="1.1"/>
<circle cx="38.4" cy="260.9" r="1.2" fill="#bf3340"/>
<circle cx="45.4" cy="262.5" r="1.2" fill="#bf3340"/>
<circle cx="70" cy="265.5" r="1.2" fill="#bf3340"/>
<circle cx="112.8" cy="263.5" r="1.2" fill="#bf3340"/>
<polyline points="38.4,268.5 45.4,267.5 70,262.5 112.8,254.4" fill="none" stroke="#48a44c" stroke-width="1.1"/>
<circle cx="38.4" cy="268.5" r="1.2" fill="#48a44c"/>
<circle cx="45.4" cy="267.5" r="1.2" fill="#48a44c"/>
<circle cx="70" cy="262.5" r="1.2" fill="#48a44c"/>
<circle cx="112.8" cy="254.4" r="1.2" fill="#48a44c"/>
<polyline points="38.4,262 45.4,261.5 70,267 112.8,257.4" fill="none" stroke="#bf3340" stroke-width="1.1"/>
<circle cx="38.4" cy="262" r="1.2" fill="#bf3340"/>
<circle cx="45.4" cy="261.5" r="1.2" fill="#bf3340"/>
<circle cx="70" cy="267" r="1.2" fill="#bf3340"/>
<circle cx="112.8" cy="257.4" r="1.2" fill="#bf3340"/>
<path d="M35.4,215V269.8H119.6" stroke="#555555" stroke-width="0.7" fill="none"/>
<text x="33.7" y="216.3" font-size="3.5" font-weight="bold" text-anchor="end" fill="#222" >25</text>
<text x="33.7" y="227.2" font-size="3.5" font-weight="bold" text-anchor="end" fill="#222" >20</text>
<text x="33.7" y="238.1" font-size="3.5" font-weight="bold" text-anchor="end" fill="#222" >15</text>
<text x="33.7" y="249" font-size="3.5" font-weight="bold" text-anchor="end" fill="#222" >10</text>
<text x="33.7" y="259.9" font-size="3.5" font-weight="bold" text-anchor="end" fill="#222" >5</text>
<text x="33.7" y="270.8" font-size="3.5" font-weight="bold" text-anchor="end" fill="#222" >0</text>
<text x="45.2" y="275.65" font-size="3.6" font-weight="bold" text-anchor="middle" fill="#222" >0</text>
<text x="76.2" y="275.65" font-size="3.6" font-weight="bold" text-anchor="middle" fill="#222" >8</text>
<text x="110.7" y="275.65" font-size="3.6" font-weight="bold" text-anchor="middle" fill="#222" >10-12</text>
<path d="M33.4,215H35.4M33.4,225.9H35.4M33.4,236.8H35.4M33.4,247.7H35.4M33.4,258.6H35.4M33.4,269.5H35.4M45.2,269.8V271.8M76.2,269.8V271.8M110.7,269.8V271.8M51.02,269.8V271.1M56.63,269.8V271.1M62.25,269.8V271.1M67.87,269.8V271.1M73.48,269.8V271.1M79.1,269.8V271.1M84.72,269.8V271.1M90.33,269.8V271.1M95.95,269.8V271.1M101.57,269.8V271.1M107.18,269.8V271.1" stroke="#555555" stroke-width="0.7" fill="none"/>
<text x="76.9" y="283.7" font-size="6.4" font-weight="normal" text-anchor="middle" fill="#111" textLength="38.7" lengthAdjust="spacingAndGlyphs" stroke="#111" stroke-width="0.1">Week on Study</text>
<rect x="148.1" y="215.5" width="11.6" height="54.3" fill="#e3dcdd"/>
<text x="180.4" y="209.1" font-size="5.3" font-weight="bold" text-anchor="middle" fill="#111" textLength="14.6" lengthAdjust="spacingAndGlyphs" >Tregs</text>
<text transform="translate(128.6,243.6) rotate(-90)" x="0" y="0" font-size="5.6" font-weight="normal" text-anchor="middle" dominant-baseline="central" fill="#111" stroke="#111" stroke-width="0.05" textLength="53.6" lengthAdjust="spacingAndGlyphs">% CD4+CD25hiFoxP3+</text>
<polyline points="141.6,245.3 148.1,241.3 172.7,245.3 215.8,248.7" fill="none" stroke="#bf3340" stroke-width="1.1"/>
<circle cx="141.6" cy="245.3" r="1.2" fill="#bf3340"/>
<circle cx="148.1" cy="241.3" r="1.2" fill="#bf3340"/>
<circle cx="172.7" cy="245.3" r="1.2" fill="#bf3340"/>
<circle cx="215.8" cy="248.7" r="1.2" fill="#bf3340"/>
<polyline points="141.6,256.4 148.1,251.4 172.7,254.4 215.8,246.3" fill="none" stroke="#48a44c" stroke-width="1.1"/>
<circle cx="141.6" cy="256.4" r="1.2" fill="#48a44c"/>
<circle cx="148.1" cy="251.4" r="1.2" fill="#48a44c"/>
<circle cx="172.7" cy="254.4" r="1.2" fill="#48a44c"/>
<circle cx="215.8" cy="246.3" r="1.2" fill="#48a44c"/>
<polyline points="141.6,262.5 148.1,256.4 172.7,257 215.8,243.3" fill="none" stroke="#1a1a1a" stroke-width="1.1"/>
<circle cx="141.6" cy="262.5" r="1.2" fill="#1a1a1a"/>
<circle cx="148.1" cy="256.4" r="1.2" fill="#1a1a1a"/>
<circle cx="172.7" cy="257" r="1.2" fill="#1a1a1a"/>
<circle cx="215.8" cy="243.3" r="1.2" fill="#1a1a1a"/>
<path d="M141.6,238.2V254.4M140.1,238.2H143.1M140.1,254.4H143.1" stroke="#bf3340" stroke-width="0.7" fill="none"/>
<path d="M148.1,230.2V252M146.6,230.2H149.6M146.6,252H149.6" stroke="#bf3340" stroke-width="0.7" fill="none"/>
<path d="M172.7,233.2V261.5M171.2,233.2H174.2M171.2,261.5H174.2" stroke="#bf3340" stroke-width="0.7" fill="none"/>
<path d="M215.8,240V254.4M214.3,240H217.3M214.3,254.4H217.3" stroke="#bf3340" stroke-width="0.7" fill="none"/>
<path d="M141.6,250V263M140.1,250H143.1M140.1,263H143.1" stroke="#48a44c" stroke-width="0.7" fill="none"/>
<path d="M148.1,235.2V261.5M146.6,235.2H149.6M146.6,261.5H149.6" stroke="#48a44c" stroke-width="0.7" fill="none"/>
<path d="M172.7,249.4V261.5M171.2,249.4H174.2M171.2,261.5H174.2" stroke="#48a44c" stroke-width="0.7" fill="none"/>
<path d="M215.8,239V252M214.3,239H217.3M214.3,252H217.3" stroke="#48a44c" stroke-width="0.7" fill="none"/>
<path d="M141.6,256V267M140.1,256H143.1M140.1,267H143.1" stroke="#1a1a1a" stroke-width="0.7" fill="none"/>
<path d="M148.1,250V264M146.6,250H149.6M146.6,264H149.6" stroke="#1a1a1a" stroke-width="0.7" fill="none"/>
<path d="M172.7,252V262.5M171.2,252H174.2M171.2,262.5H174.2" stroke="#1a1a1a" stroke-width="0.7" fill="none"/>
<path d="M215.8,235.2V252M214.3,235.2H217.3M214.3,252H217.3" stroke="#1a1a1a" stroke-width="0.7" fill="none"/>
<path d="M138.2,214.7V269.8H222.6" stroke="#555555" stroke-width="0.7" fill="none"/>
<text x="136.5" y="216" font-size="3.5" font-weight="bold" text-anchor="end" fill="#222" >15</text>
<text x="136.5" y="234.27" font-size="3.5" font-weight="bold" text-anchor="end" fill="#222" >10</text>
<text x="136.5" y="252.53" font-size="3.5" font-weight="bold" text-anchor="end" fill="#222" >5</text>
<text x="136.5" y="270.8" font-size="3.5" font-weight="bold" text-anchor="end" fill="#222" >0</text>
<text x="148" y="275.65" font-size="3.6" font-weight="bold" text-anchor="middle" fill="#222" >0</text>
<text x="179" y="275.65" font-size="3.6" font-weight="bold" text-anchor="middle" fill="#222" >8</text>
<text x="213.7" y="275.65" font-size="3.6" font-weight="bold" text-anchor="middle" fill="#222" >10-12</text>
<path d="M136.2,214.7H138.2M136.2,232.97H138.2M136.2,251.23H138.2M136.2,269.5H138.2M148,269.8V271.8M179,269.8V271.8M213.7,269.8V271.8M153.74,269.8V271.1M159.38,269.8V271.1M165.03,269.8V271.1M170.67,269.8V271.1M176.31,269.8V271.1M181.95,269.8V271.1M187.59,269.8V271.1M193.23,269.8V271.1M198.88,269.8V271.1M204.52,269.8V271.1M210.16,269.8V271.1" stroke="#555555" stroke-width="0.7" fill="none"/>
<text x="179.7" y="283.5" font-size="6.4" font-weight="normal" text-anchor="middle" fill="#111" textLength="38.1" lengthAdjust="spacingAndGlyphs" stroke="#111" stroke-width="0.1">Week on Study</text>
<rect x="256.6" y="215.8" width="11.6" height="52" fill="#e3dcdd"/>
<text x="286.3" y="209.1" font-size="5.3" font-weight="bold" text-anchor="middle" fill="#111" textLength="29" lengthAdjust="spacingAndGlyphs" >CD4+ T cells</text>
<text transform="translate(235.3,241.9) rotate(-90)" x="0" y="0" font-size="6.3" font-weight="bold" text-anchor="middle" dominant-baseline="central" fill="#111" stroke="#111" stroke-width="0.05" textLength="59.8" lengthAdjust="spacingAndGlyphs">% CD4<tspan dy="-1.6" font-size="4.2">+</tspan><tspan dy="1.6">/CD127</tspan><tspan dy="-1.6" font-size="4.2">+</tspan><tspan dy="1.6"> T cells</tspan></text>
<polyline points="250.4,236.4 256.5,232.6 279.7,229.8 321.4,238" fill="none" stroke="#1a1a1a" stroke-width="1.1"/>
<circle cx="250.4" cy="236.4" r="1.2" fill="#1a1a1a"/>
<circle cx="256.5" cy="232.6" r="1.2" fill="#1a1a1a"/>
<circle cx="279.7" cy="229.8" r="1.2" fill="#1a1a1a"/>
<circle cx="321.4" cy="238" r="1.2" fill="#1a1a1a"/>
<polyline points="250.4,238.7 256.5,236.4 279.7,232.6 321.4,232.6" fill="none" stroke="#bf3340" stroke-width="1.1"/>
<circle cx="250.4" cy="238.7" r="1.2" fill="#bf3340"/>
<circle cx="256.5" cy="236.4" r="1.2" fill="#bf3340"/>
<circle cx="279.7" cy="232.6" r="1.2" fill="#bf3340"/>
<circle cx="321.4" cy="232.6" r="1.2" fill="#bf3340"/>
<polyline points="250.4,241.9 256.5,243.2 279.7,237 321.4,236.4" fill="none" stroke="#1a1a1a" stroke-width="1.1"/>
<circle cx="250.4" cy="241.9" r="1.2" fill="#1a1a1a"/>
<circle cx="256.5" cy="243.2" r="1.2" fill="#1a1a1a"/>
<circle cx="279.7" cy="237" r="1.2" fill="#1a1a1a"/>
<circle cx="321.4" cy="236.4" r="1.2" fill="#1a1a1a"/>
<polyline points="256.5,236.4 279.7,244.9 321.4,231.3" fill="none" stroke="#48a44c" stroke-width="1.1"/>
<circle cx="256.5" cy="236.4" r="1.2" fill="#48a44c"/>
<circle cx="279.7" cy="244.9" r="1.2" fill="#48a44c"/>
<circle cx="321.4" cy="231.3" r="1.2" fill="#48a44c"/>
<polyline points="250.4,250.6 256.5,247.8 279.7,239.2 321.4,239.2" fill="none" stroke="#bf3340" stroke-width="1.1"/>
<circle cx="250.4" cy="250.6" r="1.2" fill="#bf3340"/>
<circle cx="256.5" cy="247.8" r="1.2" fill="#bf3340"/>
<circle cx="279.7" cy="239.2" r="1.2" fill="#bf3340"/>
<circle cx="321.4" cy="239.2" r="1.2" fill="#bf3340"/>
<polyline points="250.4,253 256.5,250.6 279.7,244.9 321.4,236.4" fill="none" stroke="#48a44c" stroke-width="1.1"/>
<circle cx="250.4" cy="253" r="1.2" fill="#48a44c"/>
<circle cx="256.5" cy="250.6" r="1.2" fill="#48a44c"/>
<circle cx="279.7" cy="244.9" r="1.2" fill="#48a44c"/>
<circle cx="321.4" cy="236.4" r="1.2" fill="#48a44c"/>
<polyline points="256.5,247.8 279.7,247.8 321.4,243.2" fill="none" stroke="#bf3340" stroke-width="1.1"/>
<circle cx="256.5" cy="247.8" r="1.2" fill="#bf3340"/>
<circle cx="279.7" cy="247.8" r="1.2" fill="#bf3340"/>
<circle cx="321.4" cy="243.2" r="1.2" fill="#bf3340"/>
<polyline points="256.5,252.2 279.7,251.4 321.4,249.5" fill="none" stroke="#48a44c" stroke-width="1.1"/>
<circle cx="256.5" cy="252.2" r="1.2" fill="#48a44c"/>
<circle cx="279.7" cy="251.4" r="1.2" fill="#48a44c"/>
<circle cx="321.4" cy="249.5" r="1.2" fill="#48a44c"/>
<polyline points="250.4,258.8 256.5,256.8 279.7,252.7 321.4,250.6" fill="none" stroke="#1a1a1a" stroke-width="1.1"/>
<circle cx="250.4" cy="258.8" r="1.2" fill="#1a1a1a"/>
<circle cx="256.5" cy="256.8" r="1.2" fill="#1a1a1a"/>
<circle cx="279.7" cy="252.7" r="1.2" fill="#1a1a1a"/>
<circle cx="321.4" cy="250.6" r="1.2" fill="#1a1a1a"/>
<polyline points="250.4,260.9 256.5,260.4 279.7,253.9 321.4,253" fill="none" stroke="#bf3340" stroke-width="1.1"/>
<circle cx="250.4" cy="260.9" r="1.2" fill="#bf3340"/>
<circle cx="256.5" cy="260.4" r="1.2" fill="#bf3340"/>
<circle cx="279.7" cy="253.9" r="1.2" fill="#bf3340"/>
<circle cx="321.4" cy="253" r="1.2" fill="#bf3340"/>
<polyline points="256.5,250.6 279.7,253.9 321.4,243.2" fill="none" stroke="#bf3340" stroke-width="1.1"/>
<circle cx="256.5" cy="250.6" r="1.2" fill="#bf3340"/>
<circle cx="279.7" cy="253.9" r="1.2" fill="#bf3340"/>
<circle cx="321.4" cy="243.2" r="1.2" fill="#bf3340"/>
<polyline points="250.4,253 256.5,250 279.7,239.2 321.4,253" fill="none" stroke="#1a1a1a" stroke-width="1.1"/>
<circle cx="250.4" cy="253" r="1.2" fill="#1a1a1a"/>
<circle cx="256.5" cy="250" r="1.2" fill="#1a1a1a"/>
<circle cx="279.7" cy="239.2" r="1.2" fill="#1a1a1a"/>
<circle cx="321.4" cy="253" r="1.2" fill="#1a1a1a"/>
<path d="M247.3,215V267.8H327.7" stroke="#555555" stroke-width="0.7" fill="none"/>
<text x="245.6" y="216.3" font-size="3.5" font-weight="bold" text-anchor="end" fill="#222" >100</text>
<text x="245.6" y="226.82" font-size="3.5" font-weight="bold" text-anchor="end" fill="#222" >80</text>
<text x="245.6" y="237.34" font-size="3.5" font-weight="bold" text-anchor="end" fill="#222" >60</text>
<text x="245.6" y="247.86" font-size="3.5" font-weight="bold" text-anchor="end" fill="#222" >40</text>
<text x="245.6" y="258.38" font-size="3.5" font-weight="bold" text-anchor="end" fill="#222" >20</text>
<text x="245.6" y="268.9" font-size="3.5" font-weight="bold" text-anchor="end" fill="#222" >0</text>
<text x="256.4" y="273.65" font-size="3.6" font-weight="bold" text-anchor="middle" fill="#222" >0</text>
<text x="286.2" y="273.65" font-size="3.6" font-weight="bold" text-anchor="middle" fill="#222" >8</text>
<text x="318.8" y="273.65" font-size="3.6" font-weight="bold" text-anchor="middle" fill="#222" >10-12</text>
<path d="M245.3,215H247.3M245.3,225.52H247.3M245.3,236.04H247.3M245.3,246.56H247.3M245.3,257.08H247.3M245.3,267.6H247.3M256.4,267.8V269.8M286.2,267.8V269.8M318.8,267.8V269.8M261.91,267.8V269.1M267.32,267.8V269.1M272.73,267.8V269.1M278.13,267.8V269.1M283.54,267.8V269.1M288.95,267.8V269.1M294.36,267.8V269.1M299.77,267.8V269.1M305.17,267.8V269.1M310.58,267.8V269.1M315.99,267.8V269.1" stroke="#555555" stroke-width="0.7" fill="none"/>
<text x="286.4" y="281.1" font-size="6.4" font-weight="normal" text-anchor="middle" fill="#111" textLength="35.3" lengthAdjust="spacingAndGlyphs" stroke="#111" stroke-width="0.1">Week on Study</text>
<rect x="360.5" y="215.3" width="11.7" height="52.8" fill="#e3dcdd"/>
<text x="390.6" y="209.1" font-size="5.3" font-weight="bold" text-anchor="middle" fill="#111" textLength="28.9" lengthAdjust="spacingAndGlyphs" >CD8+ T cells</text>
<text transform="translate(341.2,242.7) rotate(-90)" x="0" y="0" font-size="6.3" font-weight="bold" text-anchor="middle" dominant-baseline="central" fill="#111" stroke="#111" stroke-width="0.05" textLength="60" lengthAdjust="spacingAndGlyphs">% CD8<tspan dy="-1.6" font-size="4.2">+</tspan><tspan dy="1.6">/CD127</tspan><tspan dy="-1.6" font-size="4.2">+</tspan><tspan dy="1.6"> T cells</tspan></text>
<polyline points="354.2,260.4 360.5,253.4 384.7,260.9 426.7,249.8" fill="none" stroke="#48a44c" stroke-width="1.1"/>
<circle cx="354.2" cy="260.4" r="1.2" fill="#48a44c"/>
<circle cx="360.5" cy="253.4" r="1.2" fill="#48a44c"/>
<circle cx="384.7" cy="260.9" r="1.2" fill="#48a44c"/>
<circle cx="426.7" cy="249.8" r="1.2" fill="#48a44c"/>
<polyline points="360.5,255.5 384.7,260.9 426.7,254.7" fill="none" stroke="#48a44c" stroke-width="1.1"/>
<circle cx="360.5" cy="255.5" r="1.2" fill="#48a44c"/>
<circle cx="384.7" cy="260.9" r="1.2" fill="#48a44c"/>
<circle cx="426.7" cy="254.7" r="1.2" fill="#48a44c"/>
<polyline points="360.5,254.7 384.7,247.8 426.7,258.3" fill="none" stroke="#bf3340" stroke-width="1.1"/>
<circle cx="360.5" cy="254.7" r="1.2" fill="#bf3340"/>
<circle cx="384.7" cy="247.8" r="1.2" fill="#bf3340"/>
<circle cx="426.7" cy="258.3" r="1.2" fill="#bf3340"/>
<polyline points="354.2,264.5 360.5,265.3 384.7,263.7 426.7,262.9" fill="none" stroke="#1a1a1a" stroke-width="1.1"/>
<circle cx="354.2" cy="264.5" r="1.2" fill="#1a1a1a"/>
<circle cx="360.5" cy="265.3" r="1.2" fill="#1a1a1a"/>
<circle cx="384.7" cy="263.7" r="1.2" fill="#1a1a1a"/>
<circle cx="426.7" cy="262.9" r="1.2" fill="#1a1a1a"/>
<polyline points="360.5,265.8 384.7,263.7 426.7,259.9" fill="none" stroke="#bf3340" stroke-width="1.1"/>
<circle cx="360.5" cy="265.8" r="1.2" fill="#bf3340"/>
<circle cx="384.7" cy="263.7" r="1.2" fill="#bf3340"/>
<circle cx="426.7" cy="259.9" r="1.2" fill="#bf3340"/>
<polyline points="354.2,265.5 360.5,265.5 384.7,264.5 426.7,261.2" fill="none" stroke="#bf3340" stroke-width="1.1"/>
<circle cx="354.2" cy="265.5" r="1.2" fill="#bf3340"/>
<circle cx="360.5" cy="265.5" r="1.2" fill="#bf3340"/>
<circle cx="384.7" cy="264.5" r="1.2" fill="#bf3340"/>
<circle cx="426.7" cy="261.2" r="1.2" fill="#bf3340"/>
<polyline points="354.2,266 360.5,266 384.7,266 426.7,265.8" fill="none" stroke="#48a44c" stroke-width="1.1"/>
<circle cx="354.2" cy="266" r="1.2" fill="#48a44c"/>
<circle cx="360.5" cy="266" r="1.2" fill="#48a44c"/>
<circle cx="384.7" cy="266" r="1.2" fill="#48a44c"/>
<circle cx="426.7" cy="265.8" r="1.2" fill="#48a44c"/>
<polyline points="354.2,266.3 360.5,266.3 384.7,266.3 426.7,266.2" fill="none" stroke="#7d6a2a" stroke-width="1.1"/>
<circle cx="354.2" cy="266.3" r="1.2" fill="#7d6a2a"/>
<circle cx="360.5" cy="266.3" r="1.2" fill="#7d6a2a"/>
<circle cx="384.7" cy="266.3" r="1.2" fill="#7d6a2a"/>
<circle cx="426.7" cy="266.2" r="1.2" fill="#7d6a2a"/>
<polyline points="354.2,267.6 360.5,267.6 384.7,267.6 426.7,267.6" fill="none" stroke="#bf3340" stroke-width="1.1"/>
<circle cx="354.2" cy="267.6" r="1.2" fill="#bf3340"/>
<circle cx="360.5" cy="267.6" r="1.2" fill="#bf3340"/>
<circle cx="384.7" cy="267.6" r="1.2" fill="#bf3340"/>
<circle cx="426.7" cy="267.6" r="1.2" fill="#bf3340"/>
<path d="M351,214.5V268.1H433" stroke="#555555" stroke-width="0.7" fill="none"/>
<text x="349.3" y="215.8" font-size="3.5" font-weight="bold" text-anchor="end" fill="#222" >10</text>
<text x="349.3" y="226.52" font-size="3.5" font-weight="bold" text-anchor="end" fill="#222" >8</text>
<text x="349.3" y="237.24" font-size="3.5" font-weight="bold" text-anchor="end" fill="#222" >6</text>
<text x="349.3" y="247.96" font-size="3.5" font-weight="bold" text-anchor="end" fill="#222" >4</text>
<text x="349.3" y="258.68" font-size="3.5" font-weight="bold" text-anchor="end" fill="#222" >2</text>
<text x="349.3" y="269.4" font-size="3.5" font-weight="bold" text-anchor="end" fill="#222" >0</text>
<text x="360.4" y="273.95" font-size="3.6" font-weight="bold" text-anchor="middle" fill="#222" >0</text>
<text x="390.3" y="273.95" font-size="3.6" font-weight="bold" text-anchor="middle" fill="#222" >8</text>
<text x="424.3" y="273.95" font-size="3.6" font-weight="bold" text-anchor="middle" fill="#222" >10-12</text>
<path d="M349,214.5H351M349,225.22H351M349,235.94H351M349,246.66H351M349,257.38H351M349,268.1H351M360.4,268.1V270.1M390.3,268.1V270.1M424.3,268.1V270.1M366.02,268.1V269.4M371.53,268.1V269.4M377.05,268.1V269.4M382.57,268.1V269.4M388.08,268.1V269.4M393.6,268.1V269.4M399.12,268.1V269.4M404.63,268.1V269.4M410.15,268.1V269.4M415.67,268.1V269.4M421.18,268.1V269.4" stroke="#555555" stroke-width="0.7" fill="none"/>
<text x="391.1" y="281.9" font-size="6.4" font-weight="normal" text-anchor="middle" fill="#111" textLength="37.8" lengthAdjust="spacingAndGlyphs" stroke="#111" stroke-width="0.1">Week on Study</text>
<text x="6.3" y="10.5" font-size="11.5" font-weight="bold" text-anchor="middle" fill="#111" >A</text>
<text x="6.6" y="209.8" font-size="11.5" font-weight="bold" text-anchor="middle" fill="#111" >B</text>
<text x="224.2" y="209.7" font-size="11.5" font-weight="bold" text-anchor="middle" fill="#111" >C</text>
<path d="M440,20.9H455" stroke="#0a0a0a" stroke-width="2.1"/>
<circle cx="447.5" cy="20.9" r="2.5" fill="#0a0a0a"/>
<text x="463.8" y="24.5" font-size="10.5" font-weight="bold" text-anchor="start" fill="#000" textLength="54" lengthAdjust="spacingAndGlyphs" >10 mcg/kg</text>
<path d="M440,36.5H455" stroke="#e42a2a" stroke-width="2.1"/>
<circle cx="447.5" cy="36.5" r="2.5" fill="#e42a2a"/>
<text x="463.8" y="40.1" font-size="10.5" font-weight="bold" text-anchor="start" fill="#000" textLength="54" lengthAdjust="spacingAndGlyphs" >20 mcg/kg</text>
<path d="M440,52.3H455" stroke="#27a82e" stroke-width="2.1"/>
<circle cx="447.5" cy="52.3" r="2.5" fill="#27a82e"/>
<text x="463.8" y="55.9" font-size="10.5" font-weight="bold" text-anchor="start" fill="#000" textLength="54" lengthAdjust="spacingAndGlyphs" >30 mcg/kg</text>
</svg></body></html>
